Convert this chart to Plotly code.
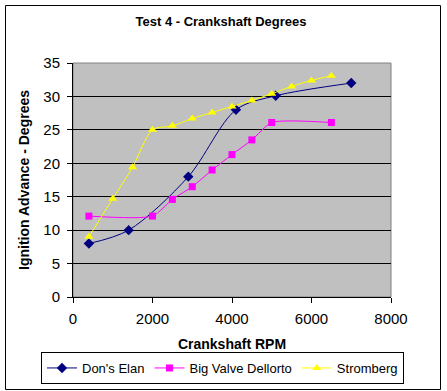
import plotly.graph_objects as go

dons_rpm = [400, 1400, 2900, 4100, 5100, 7000]
dons_deg = [8.0, 10.0, 18.0, 28.0, 30.1, 32.0]

dellorto_rpm = [400, 2000, 2500, 3000, 3500, 4000, 4500, 5000, 6500]
dellorto_deg = [12.1, 12.1, 14.6, 16.5, 19.0, 21.3, 23.5, 26.1, 26.1]

strom_rpm = [400, 1000, 1500, 2000, 2500, 3000, 3500, 4000, 4500, 5000, 5500, 6000, 6500]
strom_deg = [9.0, 14.7, 19.4, 25.0, 25.6, 26.7, 27.6, 28.5, 29.4, 30.4, 31.5, 32.4, 33.1]

x_ticks = [0, 2000, 4000, 6000, 8000]
y_ticks = [0, 5, 10, 15, 20, 25, 30, 35]

FONT = "Liberation Sans, Arial, sans-serif"

fig = go.Figure()
fig.add_trace(go.Scatter(x=dons_rpm, y=dons_deg, name="Don's Elan", mode="lines+markers",
                         line=dict(color="#000080", width=1, shape="spline", smoothing=0.9),
                         marker=dict(symbol="diamond", size=8, color="#000080")))
fig.add_trace(go.Scatter(x=dellorto_rpm, y=dellorto_deg, name="Big Valve Dellorto", mode="lines+markers",
                         line=dict(color="#FF00FF", width=1, shape="spline", smoothing=0.6),
                         marker=dict(symbol="square", size=7, color="#FF00FF")))
fig.add_trace(go.Scatter(x=strom_rpm, y=strom_deg, name="Stromberg", mode="lines+markers",
                         line=dict(color="#FFFF00", width=1, shape="spline", smoothing=0.8),
                         marker=dict(symbol="triangle-up", size=8, color="#FFFF00")))

L, R, T, B = 73, 391, 63, 297
W, H = 447, 391
pw, ph = R - L, B - T

def px(x):
    return (x - L) / pw

def py(y):
    return (B - y) / ph

fig.update_layout(
    width=W, height=H,
    margin=dict(l=L, r=W - R, t=T, b=H - B, pad=0, autoexpand=False),
    paper_bgcolor="white",
    plot_bgcolor="#C0C0C0",
    font=dict(family=FONT, size=14, color="black"),
    title=dict(text="Test 4 - Crankshaft Degrees", x=221 / W, xanchor="center",
               y=1 - 21 / H, yanchor="middle", yref="container",
               font=dict(family=FONT, size=13, weight="bold", color="black")),
    showlegend=True,
    legend=dict(orientation="h", xref="paper", yref="paper",
                x=px(41), xanchor="left", y=py(352), yanchor="top",
                bordercolor="black", borderwidth=1, bgcolor="white",
                font=dict(family=FONT, size=13, color="black"),
                itemwidth=30, tracegroupgap=0),
    shapes=[
        dict(type="rect", xref="paper", yref="paper", x0=0, x1=1, y0=0, y1=1,
             line=dict(color="#808080", width=1), layer="below"),
        dict(type="rect", xref="paper", yref="paper", x0=px(5.5), x1=px(440.5),
             y0=py(389.5), y1=py(5.5), line=dict(color="black", width=1), layer="above"),
    ],
)
fig.update_xaxes(range=[0, 8000], tickvals=x_ticks, ticktext=[str(v) for v in x_ticks],
                 showgrid=False, zeroline=False, showline=True, linecolor="black", linewidth=1,
                 ticks="outside", ticklen=5, tickcolor="black", automargin=False,
                 ticklabelstandoff=3,
                 tickfont=dict(family=FONT, size=15),
                 title=dict(text="Crankshaft RPM", standoff=13,
                            font=dict(family=FONT, size=14, weight="bold")))
fig.update_yaxes(range=[0, 35], tickvals=y_ticks, ticktext=[str(v) for v in y_ticks],
                 showgrid=True, gridcolor="black", gridwidth=1, zeroline=False,
                 showline=True, linecolor="black", linewidth=1,
                 ticks="outside", ticklen=5, tickcolor="black", automargin=False,
                 ticklabelstandoff=4,
                 tickfont=dict(family=FONT, size=15),
                 title=dict(text="Ignition Advance - Degrees", standoff=10,
                            font=dict(family=FONT, size=14, weight="bold")))

fig.write_html("out.html", config={"displayModeBar": False},
               post_script="document.body.style.margin='0';document.body.style.overflow='hidden';")
